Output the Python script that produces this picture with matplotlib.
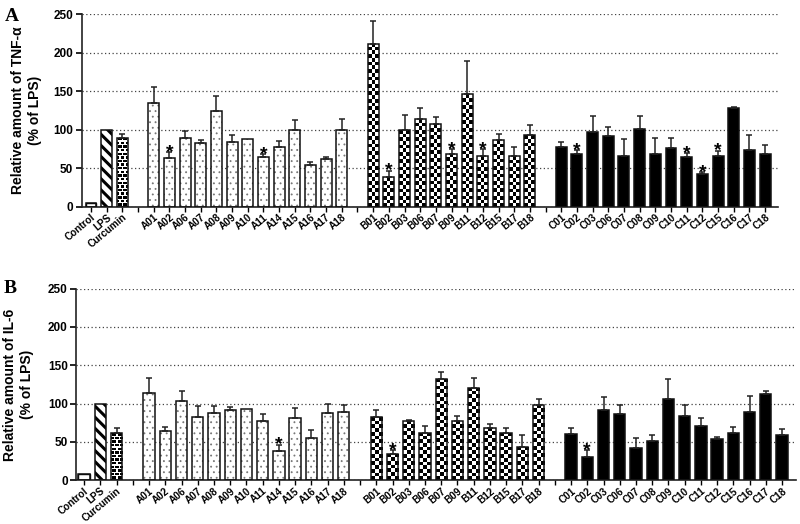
import numpy as np
import matplotlib
matplotlib.use("Agg")
import matplotlib.pyplot as plt

plt.rcParams["font.family"] = ["Liberation Sans", "DejaVu Sans"]
plt.rcParams["font.weight"] = "bold"

# labels
ctrl_labels = ["Control", "LPS", "Curcumin"]
a_labels = ["A01", "A02", "A06", "A07", "A08", "A09", "A10", "A11", "A14", "A15", "A16", "A17", "A18"]
b_labels = ["B01", "B02", "B03", "B06", "B07", "B09", "B11", "B12", "B15", "B17", "B18"]
c_labels = ["C01", "C02", "C03", "C06", "C07", "C08", "C09", "C10", "C11", "C12", "C15", "C16", "C17", "C18"]

# panel A: TNF-alpha (% of LPS), mean and upper SD
tnf_ctrl = [5, 100, 89.6]
tnf_ctrl_err = [0, 0, 5.5]
tnf_a = [135, 63, 89, 82.7, 125, 84, 88.5, 64, 78, 100, 54, 62.5, 99.5]
tnf_a_err = [20, 8, 10, 3.5, 18.5, 9.5, 0, 4, 8, 13, 4.5, 2.5, 14.5]
tnf_b = [212, 38, 100, 114, 107, 69, 146, 66, 87, 66, 93]
tnf_b_err = [30, 9, 19, 14, 10, 6, 44, 9, 8, 11, 13]
tnf_c = [78, 69, 96.5, 92.5, 66.5, 100.5, 69, 76, 64, 42.5, 66, 128, 74, 68]
tnf_c_err = [6, 5, 21.5, 11.5, 22, 18, 20, 13, 6, 2, 7, 2, 19.5, 12]
tnf_stars = ["A02", "A11", "B02", "B09", "B12", "C02", "C11", "C12", "C15"]

# panel B: IL-6 (% of LPS)
il6_ctrl = [8.3, 100, 62]
il6_ctrl_err = [0, 0, 5.5]
il6_a = [114, 64, 104, 82, 88, 91.5, 93, 77.5, 38, 81, 55, 88, 89.5]
il6_a_err = [20, 5.5, 13, 15, 9, 3.5, 0, 8.5, 8.5, 13, 10.5, 12, 8]
il6_b = [82, 34, 77.5, 62, 132, 77.5, 120, 68, 61.5, 43.5, 98.5]
il6_b_err = [9, 5, 1, 8.5, 9.5, 6.5, 13, 5, 6, 15.5, 7.5]
il6_c = [60.5, 30, 91, 86, 42.5, 51, 106.5, 83.5, 70.5, 54, 61.5, 89.5, 112.5, 58.5]
il6_c_err = [7.5, 9.5, 17, 12, 12.5, 7.5, 26, 14.5, 10.5, 2.5, 8.5, 20, 4.5, 8.5]
il6_stars = ["A14", "B02", "C02"]

BAR_W = 0.7
CHECKER = np.array([[0, 1], [1, 0]])
BRICK = np.array([[1, 1, 1, 1],
                  [1, 0, 0, 0],
                  [1, 0, 0, 0],
                  [1, 1, 1, 1],
                  [0, 0, 1, 0],
                  [0, 0, 1, 0]])


def positions():
    # one empty slot between groups
    pos_ctrl = np.arange(3)
    pos_a = np.arange(len(a_labels)) + 4
    pos_b = np.arange(len(b_labels)) + pos_a[-1] + 2
    pos_c = np.arange(len(c_labels)) + pos_b[-1] + 2
    gaps = [3, pos_a[-1] + 1, pos_b[-1] + 1]
    return pos_ctrl, pos_a, pos_b, pos_c, gaps


def fill_texture(ax, bar, tile, cell_px, ncol=None):
    x0, y0 = bar.get_x(), bar.get_y()
    w, h = bar.get_width(), bar.get_height()
    (px0, py0), (px1, py1) = ax.transData.transform([(x0, y0), (x0 + w, y0 + h)])
    if ncol is None:
        ncol = max(1, int(round((px1 - px0) / cell_px)))
    nrow = max(1, int(round((py1 - py0) / cell_px)))
    th, tw = tile.shape
    img = np.tile(tile, (nrow // th + 1, ncol // tw + 1))[:nrow, :ncol]
    im = ax.imshow(img, cmap="gray", vmin=0, vmax=1, origin="lower",
                   extent=(x0, x0 + w, y0, y0 + h), aspect="auto",
                   interpolation="nearest", zorder=2.5)
    im.set_clip_path(bar)


def draw_panel(ax, ctrl, ctrl_err, a, a_err, b, b_err, c, c_err, stars, ylabel, xlim, labelpad):
    pos_ctrl, pos_a, pos_b, pos_c, gaps = positions()
    ax.set_xlim(*xlim)
    ax.set_ylim(0, 250)

    # control bars
    ax.bar(pos_ctrl[0], ctrl[0], BAR_W, color="white", edgecolor="black", lw=1, zorder=2)
    with plt.rc_context({"hatch.linewidth": 2.2}):
        ax.bar(pos_ctrl[1], ctrl[1], BAR_W, color="white", edgecolor="black", lw=0,
               hatch="\\\\\\", zorder=2)
    cur = ax.bar(pos_ctrl[2], ctrl[2], BAR_W, color="black", lw=0, zorder=2)
    fill_texture(ax, cur[0], BRICK, 1.2)

    # group A: stipple
    with plt.rc_context({"hatch.linewidth": 0.6}):
        ax.bar(pos_a, a, BAR_W, color="white", edgecolor="#777777", lw=0, hatch="...", zorder=2)
    # group B: checkerboard
    bars_b = ax.bar(pos_b, b, BAR_W, color="white", lw=0, zorder=2)
    for bar in bars_b:
        fill_texture(ax, bar, CHECKER, 3.7, ncol=3)
    # group C: solid
    ax.bar(pos_c, c, BAR_W, color="black", lw=0, zorder=2)

    all_pos = np.concatenate([pos_ctrl, pos_a, pos_b, pos_c])
    all_val = np.concatenate([ctrl, a, b, c])
    all_err = np.concatenate([ctrl_err, a_err, b_err, c_err])
    all_lab = ctrl_labels + a_labels + b_labels + c_labels

    # outlines
    ax.bar(all_pos, all_val, BAR_W, fill=False, edgecolor="#111111", lw=1.1, zorder=3)
    has_err = all_err > 0
    ax.errorbar(all_pos[has_err], all_val[has_err],
                yerr=[np.zeros(has_err.sum()), all_err[has_err]],
                fmt="none", ecolor="#222222", elinewidth=1.1, capsize=2.5, capthick=1.1, zorder=4)

    for lab in stars:
        i = all_lab.index(lab)
        ax.annotate("*", xy=(all_pos[i], all_val[i] + all_err[i]), xytext=(0, -3.5),
                    textcoords="offset points", ha="center", va="baseline",
                    fontsize=14, fontweight="bold", zorder=5)

    ax.set_xticks(list(all_pos) + gaps)
    ax.set_xticklabels(all_lab + [""] * len(gaps), rotation=40, ha="right", va="top",
                       rotation_mode="anchor", fontsize=7.2, fontweight="bold")
    ax.tick_params(axis="x", length=3.5, width=1, pad=0.5)
    ax.set_yticks([0, 50, 100, 150, 200, 250])
    ax.tick_params(axis="y", length=4, width=1.2, labelsize=8.5, pad=2)
    for t in ax.get_yticklabels():
        t.set_fontweight("bold")

    ax.grid(axis="y", linestyle=(0, (1, 2)), color="#444444", lw=0.9)
    ax.set_axisbelow(True)
    for side in ["top", "right"]:
        ax.spines[side].set_visible(False)
    for side in ["left", "bottom"]:
        ax.spines[side].set_linewidth(1.2)
        ax.spines[side].set_color("#222222")

    ax.set_ylabel(ylabel, fontsize=10, fontweight="bold", labelpad=labelpad, linespacing=1.3)
    ax.set_xlim(*xlim)
    ax.set_ylim(0, 250)


fig = plt.figure(figsize=(8, 5.24), dpi=100)
ax_a = fig.add_axes([0.102, 0.6055, 0.870, 0.367])
ax_b = fig.add_axes([0.095, 0.0835, 0.900, 0.3658])

draw_panel(ax_a, tnf_ctrl, tnf_ctrl_err, tnf_a, tnf_a_err, tnf_b, tnf_b_err,
           tnf_c, tnf_c_err, tnf_stars, "Relative amount of TNF-\u03b1\n(% of LPS)",
           (-0.6, 43.8), 8)
draw_panel(ax_b, il6_ctrl, il6_ctrl_err, il6_a, il6_a_err, il6_b, il6_b_err,
           il6_c, il6_c_err, il6_stars, "Relative amount of IL-6\n(% of LPS)",
           (-0.5, 43.86), 10)

fig.text(0.006, 0.985, "A", family="Liberation Serif", fontweight="bold", fontsize=14, va="top")
fig.text(0.004, 0.465, "B", family="Liberation Serif", fontweight="bold", fontsize=14, va="top")

fig.savefig("out.png", dpi=100)
